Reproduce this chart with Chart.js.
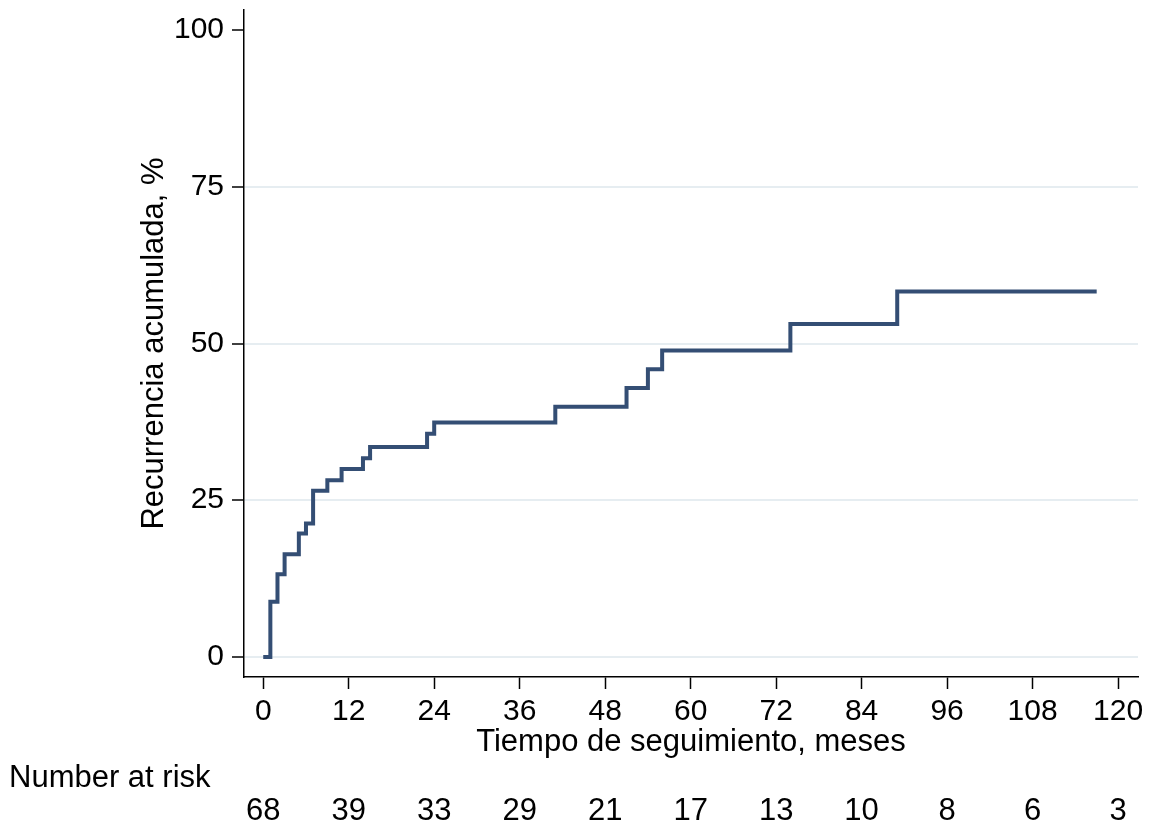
<!DOCTYPE html>
<html>
<head>
<meta charset="utf-8">
<script src="https://cdn.jsdelivr.net/npm/chart.js@4.4.0/dist/chart.umd.min.js"></script>
<style>
  html, body { margin: 0; padding: 0; background: #fff; }
</style>
</head>
<body>
<canvas id="graficaRecurrencia" width="1155" height="831"></canvas>
<script>
// datos (meses, % acumulado)
const tiempos = [0, 1, 2, 3, 5, 6, 7, 9, 11, 14, 15, 23, 24, 41, 51, 54, 56, 74, 89, 117];
const recurrencia = [0, 8.8, 13.2, 16.4, 19.7, 21.3, 26.5, 28.2, 30.0, 31.7, 33.5, 35.6, 37.4, 39.9, 42.9, 45.9, 48.9, 53.1, 58.3, 58.3];
const ticksX = [0, 12, 24, 36, 48, 60, 72, 84, 96, 108, 120];
const ticksY = [0, 25, 50, 75, 100];
const enRiesgo = [68, 39, 33, 29, 21, 17, 13, 10, 8, 6, 3];

const fuente = "'Liberation Sans', Arial, Helvetica, sans-serif";

// tabla de pacientes en riesgo debajo del eje
const tablaRiesgo = {
  id: "tablaRiesgo",
  afterDraw(chart) {
    const ctx = chart.ctx;
    const x = chart.scales.x;
    ctx.save();
    ctx.fillStyle = "#000";
    ctx.font = "31px " + fuente;
    ctx.textBaseline = "middle";
    ctx.textAlign = "left";
    ctx.fillText("Number at risk", 9, 778);
    ctx.textAlign = "center";
    enRiesgo.forEach((n, i) => {
      ctx.fillText(String(n), x.getPixelForValue(ticksX[i]), 811);
    });
    ctx.restore();
  }
};

const puntos = tiempos.map((t, i) => ({ x: t, y: recurrencia[i] }));

new Chart(document.getElementById("graficaRecurrencia"), {
  type: "scatter",
  data: {
    datasets: [{
      data: puntos,
      showLine: true,
      stepped: "before",
      borderColor: "#344e74",
      borderWidth: 4,
      pointRadius: 0,
      fill: false
    }]
  },
  options: {
    responsive: false,
    animation: false,
    layout: { padding: { left: 0, top: 10, right: 17, bottom: 0 } },
    plugins: {
      legend: { display: false },
      tooltip: { enabled: false }
    },
    scales: {
      x: {
        type: "linear",
        min: -2.7,
        max: 122.8,
        afterBuildTicks: s => { s.ticks = ticksX.map(v => ({ value: v })); },
        afterFit: s => { s.height = 154; s.paddingLeft = 0; s.paddingRight = 0; },
        border: { color: "#000", width: 1.5 },
        grid: { drawOnChartArea: false, tickColor: "#000", tickLength: 12, tickWidth: 1.5 },
        ticks: { autoSkip: false, maxRotation: 0, padding: 5, color: "#000", font: { family: fuente, size: 30 } },
        title: {
          display: true,
          text: "Tiempo de seguimiento, meses",
          color: "#000",
          font: { family: fuente, size: 31 },
          padding: { top: 0, bottom: 70 }
        }
      },
      y: {
        min: -3.2,
        max: 103.2,
        afterBuildTicks: s => { s.ticks = ticksY.map(v => ({ value: v })); },
        afterFit: s => { s.width = 244; s.paddingTop = 0; s.paddingBottom = 0; },
        border: { color: "#000", width: 1.5 },
        grid: {
          color: ctx => (ctx.tick && ctx.tick.value === 100 ? "rgba(0,0,0,0)" : "#e6edf1"),
          lineWidth: 2,
          tickColor: "#000",
          tickLength: 12,
          tickWidth: 1.5
        },
        ticks: { autoSkip: false, padding: 8, color: "#000", font: { family: fuente, size: 30 } },
        title: {
          display: true,
          text: "Recurrencia acumulada, %",
          color: "#000",
          font: { family: fuente, size: 31 },
          padding: { top: 136, bottom: 0 }
        }
      }
    }
  },
  plugins: [tablaRiesgo]
});
</script>
</body>
</html>
